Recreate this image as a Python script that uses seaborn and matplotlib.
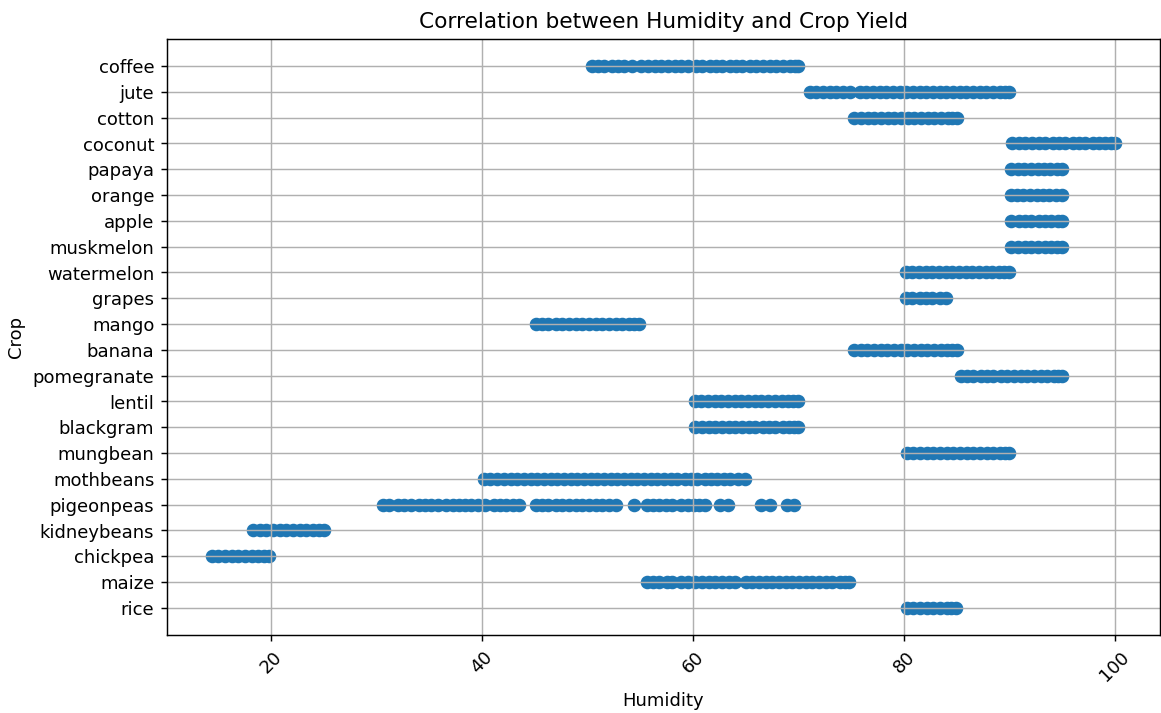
import matplotlib
matplotlib.use("Agg")
import matplotlib.pyplot as plt
import pandas as pd
import seaborn as sns

# Humidity readings per crop (bottom-to-top order on the category axis)
rice = [80.3, 80.9, 81.5, 82.2, 82.8, 83.4, 84.1, 84.5, 84.9]
maize = [55.6, 56.2, 56.8, 57.5, 58.0, 58.9, 59.5, 60.2, 60.9, 61.5, 62.1, 62.8,
         63.4, 64.0, 65.0, 65.6, 66.3, 66.9, 67.5, 68.2, 68.8, 69.4, 70.1, 70.7,
         71.3, 72.0, 72.6, 73.2, 73.9, 74.4, 74.8]
chickpea = [14.4, 15.0, 15.6, 16.3, 16.9, 17.5, 18.2, 18.8, 19.3, 19.8]
kidneybeans = [18.3, 18.9, 19.5, 20.2, 20.8, 21.4, 22.1, 22.7, 23.3, 24.0, 24.5, 25.0]
pigeonpeas = [30.6, 31.2, 32.0, 32.6, 33.3, 34.0, 34.6, 35.2, 35.8, 36.6, 37.2,
              37.8, 38.4, 39.0, 39.6, 40.3, 41.1, 41.7, 42.3, 42.9, 43.5,
              45.1, 45.7, 46.3, 47.0, 47.6, 48.2, 48.9, 49.5, 50.1, 50.8, 51.4,
              52.0, 52.7, 54.4, 55.6, 56.2, 56.8, 57.4, 58.0, 58.9, 59.5, 60.1,
              60.6, 61.1, 62.6, 63.3, 66.5, 67.3, 68.9, 69.6]
mothbeans = [40.2, 40.8, 41.4, 42.1, 42.7, 43.3, 44.0, 44.6, 45.2, 45.9, 46.5,
             47.1, 47.8, 48.4, 49.0, 49.7, 50.3, 50.9, 51.6, 52.2, 52.8, 53.5,
             54.1, 54.7, 55.4, 56.0, 56.6, 57.3, 57.9, 58.5, 59.2, 59.8, 60.4,
             61.1, 61.7, 62.3, 62.9, 63.5, 64.3, 64.9]
mungbean = [80.3, 80.9, 81.5, 82.2, 82.8, 83.4, 84.1, 84.7, 85.3, 86.0, 86.6,
            87.2, 87.9, 88.5, 89.1, 89.6, 90.0]
blackgram = [60.2, 60.9, 61.5, 62.1, 62.8, 63.4, 64.0, 64.7, 65.3, 65.9, 66.6,
             67.2, 67.8, 68.5, 69.1, 69.6, 70.0]
lentil = [60.2, 60.8, 61.4, 62.1, 62.7, 63.3, 64.0, 64.6, 65.2, 65.9, 66.5,
          67.1, 67.8, 68.4, 69.0, 69.5, 70.0]
pomegranate = [85.4, 86.0, 86.6, 87.3, 87.9, 88.5, 89.2, 89.8, 90.4, 91.1, 91.7,
               92.3, 93.0, 93.6, 94.2, 94.6, 95.0]
banana = [75.3, 75.9, 76.5, 77.2, 77.8, 78.4, 79.1, 79.7, 80.3, 81.0, 81.6,
          82.2, 82.9, 83.5, 84.1, 84.6, 85.0]
mango = [45.1, 45.7, 46.3, 47.0, 47.6, 48.2, 48.9, 49.5, 50.1, 50.8, 51.4,
         52.0, 52.7, 53.3, 53.9, 54.4, 54.9]
grapes = [80.2, 80.8, 81.5, 82.1, 82.7, 83.4, 84.0]
watermelon = [80.2, 80.8, 81.4, 82.1, 82.7, 83.3, 84.0, 84.6, 85.2, 85.9, 86.5,
              87.1, 87.8, 88.4, 89.0, 89.5, 90.0]
muskmelon = [90.2, 90.8, 91.5, 92.1, 92.7, 93.4, 94.0, 94.5, 95.0]
apple = [90.2, 90.9, 91.5, 92.1, 92.8, 93.4, 94.0, 94.6, 95.0]
orange = [90.2, 90.7, 91.3, 92.0, 92.6, 93.2, 93.8, 94.4, 95.0]
papaya = [90.2, 90.8, 91.4, 92.1, 92.7, 93.3, 93.9, 94.5, 95.0]
coconut = [90.3, 90.9, 91.5, 92.2, 92.8, 93.4, 94.1, 94.7, 95.3, 96.0, 96.6,
           97.2, 97.9, 98.5, 99.1, 99.6, 100.0]
cotton = [75.3, 75.9, 76.6, 77.2, 77.8, 78.5, 79.1, 79.7, 80.4, 81.0, 81.6,
          82.3, 82.9, 83.5, 84.2, 84.6, 85.0]
jute = [71.1, 71.7, 72.3, 73.0, 73.6, 74.2, 74.9, 75.8, 76.4, 77.1, 77.7, 78.3,
        79.0, 79.6, 80.2, 80.9, 81.5, 82.1, 82.8, 83.4, 84.0, 84.7, 85.3, 85.9,
        86.6, 87.2, 87.8, 88.5, 89.1, 89.6, 90.0]
coffee = [50.4, 51.0, 51.6, 52.3, 52.9, 53.5, 54.2, 55.1, 55.7, 56.4, 57.0,
          57.6, 58.3, 58.9, 59.5, 60.3, 60.9, 61.6, 62.2, 62.8, 63.5, 64.1,
          64.7, 65.4, 66.0, 66.6, 67.3, 67.9, 68.5, 69.2, 69.7, 70.0]

crops = ["rice", "maize", "chickpea", "kidneybeans", "pigeonpeas", "mothbeans",
         "mungbean", "blackgram", "lentil", "pomegranate", "banana", "mango",
         "grapes", "watermelon", "muskmelon", "apple", "orange", "papaya",
         "coconut", "cotton", "jute", "coffee"]
series = [rice, maize, chickpea, kidneybeans, pigeonpeas, mothbeans, mungbean,
          blackgram, lentil, pomegranate, banana, mango, grapes, watermelon,
          muskmelon, apple, orange, papaya, coconut, cotton, jute, coffee]

df = pd.DataFrame(
    [(h, name) for name, vals in zip(crops, series) for h in vals],
    columns=["humidity", "label"],
)

fig = plt.figure(figsize=(8.931, 5.485), dpi=130)
ax = fig.add_axes([0.1438, 0.1094, 0.999 - 0.1438, 0.9453 - 0.1094])

sns.scatterplot(data=df, x="humidity", y="label", ax=ax, color="#1f77b4",
                s=36, edgecolor="face", linewidth=1.5, legend=False)

# first crop at the bottom, last crop at the top
if ax.yaxis_inverted():
    ax.invert_yaxis()

ax.set_title("Correlation between Humidity and Crop Yield")
ax.set_xlabel("Humidity")
ax.set_ylabel("Crop")
ax.set_xticks([20, 40, 60, 80, 100])
plt.setp(ax.get_xticklabels(), rotation=45)
ax.grid(True)

fig.savefig("out.png", dpi=130)
